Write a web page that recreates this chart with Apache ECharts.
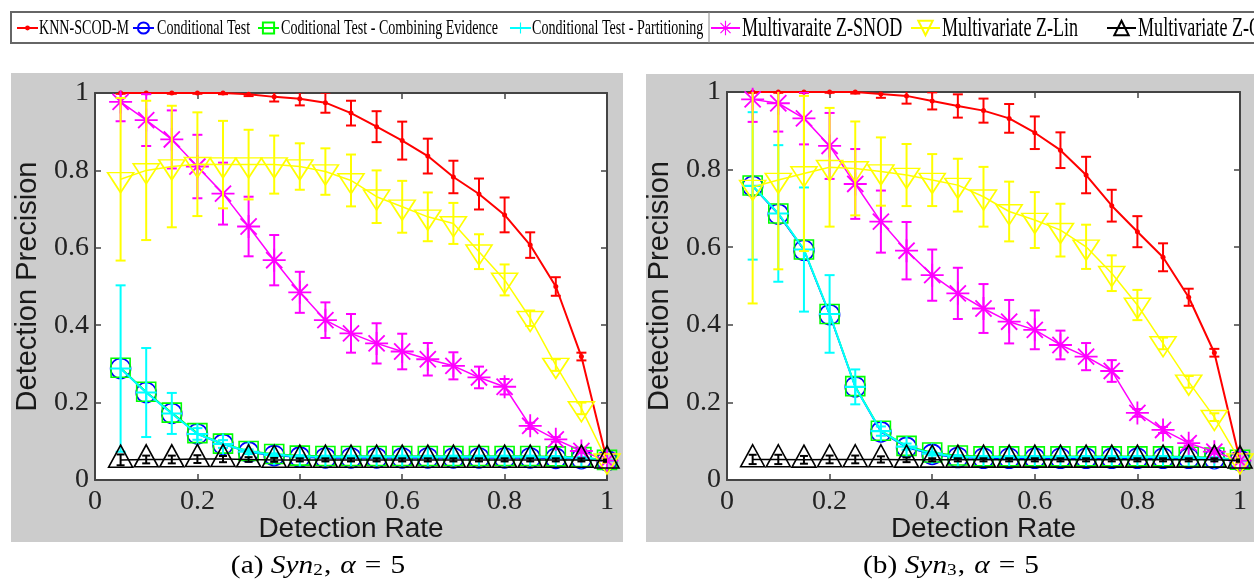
<!DOCTYPE html>
<html><head><meta charset="utf-8">
<script src="https://cdn.jsdelivr.net/npm/echarts@6/dist/echarts.min.js"></script>
<style>html,body{margin:0;padding:0;background:#fff}#c{width:1254px;height:579px}</style>
</head><body><div id="c"></div>
<script>
// ---------- data ----------
const xRates = [0.05,0.1,0.15,0.2,0.25,0.3,0.35,0.4,0.45,0.5,0.55,0.6,0.65,0.7,0.75,0.8,0.85,0.9,0.95,1.0];
const seriesNames = ['KNN-SCOD-M','Conditional Test','Coditional Test - Combining Evidence','Conditional Test - Partitioning','Multivaraite Z-SNOD','Multivariate Z-Lin','Multivariate Z-OF'];
const tickValues = [0,0.2,0.4,0.6,0.8,1];

// (a) Syn2
const knnA     = [1.0,1.0,1.0,1.0,1.0,0.997,0.99,0.985,0.975,0.948,0.913,0.877,0.837,0.783,0.739,0.685,0.607,0.50,0.319,0.05];
const knnErrA  = [0.002,0.002,0.002,0.002,0.003,0.005,0.012,0.017,0.026,0.032,0.04,0.049,0.045,0.042,0.04,0.045,0.033,0.024,0.01,0.004];
const condA    = [0.288,0.226,0.172,0.119,0.092,0.072,0.063,0.059,0.057,0.057,0.057,0.057,0.057,0.057,0.057,0.057,0.057,0.056,0.055,0.05];
const coditA   = [0.290,0.228,0.174,0.121,0.094,0.075,0.067,0.063,0.062,0.062,0.062,0.062,0.062,0.062,0.062,0.062,0.062,0.061,0.059,0.052];
const partA    = [0.288,0.226,0.172,0.119,0.093,0.073,0.065,0.061,0.06,0.06,0.06,0.06,0.06,0.06,0.06,0.06,0.06,0.059,0.057,0.05];
const partErrA = [0.215,0.115,0.053,0.015,0.01,0.006,0.004,0.003,0.003,0.003,0.003,0.003,0.003,0.003,0.003,0.003,0.003,0.003,0.003,0.002];
const snodA    = [0.977,0.93,0.88,0.81,0.74,0.655,0.568,0.485,0.413,0.379,0.353,0.332,0.312,0.295,0.265,0.241,0.14,0.105,0.075,0.05];
const snodErrA = [0.05,0.067,0.075,0.082,0.08,0.077,0.065,0.053,0.046,0.05,0.052,0.046,0.042,0.035,0.028,0.02,0.008,0.006,0.005,0.003];
const linA     = [0.777,0.80,0.81,0.816,0.815,0.815,0.815,0.81,0.797,0.774,0.732,0.706,0.68,0.663,0.59,0.517,0.418,0.297,0.185,0.05];
const linErrA  = [0.21,0.18,0.157,0.134,0.113,0.09,0.075,0.06,0.06,0.067,0.068,0.067,0.063,0.053,0.045,0.04,0.02,0.015,0.015,0.005];
const ofA      = [0.052,0.053,0.053,0.054,0.054,0.053,0.052,0.052,0.052,0.052,0.052,0.052,0.052,0.052,0.052,0.052,0.052,0.052,0.052,0.05];
const ofErrA   = [0.014,0.01,0.01,0.01,0.008,0.006,0.005,0.004,0.004,0.004,0.004,0.004,0.004,0.004,0.004,0.004,0.004,0.004,0.004,0.003];

// (b) Syn3
const knnB     = [1.0,1.0,1.0,1.0,1.0,0.995,0.99,0.977,0.964,0.952,0.932,0.895,0.85,0.786,0.707,0.64,0.574,0.471,0.328,0.05];
const knnErrB  = [0.002,0.002,0.002,0.002,0.004,0.01,0.02,0.022,0.03,0.031,0.037,0.042,0.046,0.047,0.041,0.04,0.036,0.022,0.01,0.004];
const condB    = [0.757,0.685,0.592,0.426,0.24,0.124,0.084,0.066,0.058,0.056,0.056,0.056,0.056,0.056,0.056,0.056,0.056,0.056,0.055,0.05];
const coditB   = [0.759,0.687,0.594,0.428,0.242,0.127,0.088,0.071,0.063,0.061,0.061,0.061,0.061,0.061,0.061,0.061,0.061,0.06,0.058,0.052];
const partB    = [0.758,0.687,0.594,0.428,0.24,0.126,0.086,0.068,0.06,0.059,0.059,0.059,0.059,0.059,0.059,0.059,0.059,0.058,0.056,0.05];
const partErrB = [0.19,0.176,0.16,0.1,0.045,0.012,0.008,0.005,0.004,0.003,0.003,0.003,0.003,0.003,0.003,0.003,0.003,0.003,0.003,0.002];
const snodB    = [0.981,0.971,0.932,0.861,0.763,0.666,0.591,0.528,0.481,0.442,0.408,0.387,0.348,0.318,0.281,0.173,0.129,0.095,0.073,0.05];
const snodErrB = [0.058,0.073,0.067,0.085,0.09,0.08,0.074,0.066,0.066,0.063,0.056,0.05,0.037,0.035,0.028,0.01,0.008,0.006,0.005,0.003];
const linB     = [0.755,0.773,0.79,0.806,0.803,0.795,0.786,0.773,0.76,0.73,0.692,0.67,0.644,0.601,0.533,0.451,0.352,0.253,0.162,0.05];
const linErrB  = [0.3,0.23,0.2,0.153,0.121,0.088,0.08,0.067,0.068,0.077,0.077,0.072,0.068,0.057,0.046,0.039,0.015,0.015,0.01,0.005];
const ofB      = [0.053,0.053,0.052,0.053,0.053,0.053,0.052,0.052,0.052,0.052,0.052,0.052,0.052,0.052,0.052,0.052,0.052,0.052,0.052,0.05];
const ofErrB   = [0.012,0.012,0.01,0.01,0.01,0.008,0.006,0.004,0.004,0.004,0.004,0.004,0.004,0.004,0.004,0.004,0.004,0.004,0.004,0.003];

const captionA = ['(a) ', 'Syn', '2', ',', 'α', '=', '5'];
const captionB = ['(b) ', 'Syn', '3', ',', 'α', '=', '5'];

// ---------- styling ----------
const colors = ['#ff0000','#0000ff','#00ff00','#00ffff','#ff00ff','#ffff00','#000000'];
const plusPath = 'path://M9,0H11V9H20V11H11V20H9V11H0V9H9Z';
const starPath = 'path://M0,46H100V54H0Z M46,0H54V100H46Z M17.83,12.17L87.83,82.17L82.17,87.83L12.17,17.83Z M82.17,12.17L87.83,17.83L17.83,87.83L12.17,82.17Z';
const markerCfg = [
  {symbol:'circle', size:5, hollow:false, lw:2},
  {symbol:'circle', size:20, hollow:true, lw:1.5},
  {symbol:'rect', size:19, hollow:true, lw:1.5},
  {symbol:plusPath, size:21, hollow:false, lw:2},
  {symbol:starPath, size:23, hollow:false, lw:1.5},
  {symbol:'triangle', size:[26,20], hollow:true, lw:1.5, rotate:180, offset:[0,3.3]},
  {symbol:'triangle', size:[24,22], hollow:true, lw:1.5, offset:[0,-3.7]}
];
const capW = [10,10,10,10,10,10,8];

function lineSeries(k, values, gi) {
  const m = markerCfg[k];
  return {
    type:'line', name: seriesNames[k], xAxisIndex: gi*2, yAxisIndex: gi*2,
    data: xRates.map((x,i)=>[x, values[i]]),
    symbol: m.symbol, symbolSize: m.size, symbolRotate: m.rotate || 0,
    symbolOffset: m.offset || [0,0], showAllSymbol: true, z: 3 + k,
    lineStyle: {color: colors[k], width: m.lw},
    itemStyle: m.hollow ? {color:'rgba(0,0,0,0)', borderColor: colors[k], borderWidth: 1.6}
                        : {color: colors[k], borderWidth: 0},
    emphasis: {disabled: true}, silent: true, animation: false
  };
}
function errSeries(k, values, errs, gi) {
  const col = colors[k], hw = capW[k] / 2;
  return {
    type:'custom', name: seriesNames[k] + ' error ' + gi, xAxisIndex: gi*2, yAxisIndex: gi*2,
    data: xRates.map((x,i)=>[x, values[i]-errs[i], values[i]+errs[i]]),
    encode: {x:0, y:[1,2]}, clip: true, silent: true, z: 3 + k, animation:false,
    renderItem: function(params, api) {
      const x = api.value(0);
      const lo = api.coord([x, api.value(1)]);
      const hi = api.coord([x, api.value(2)]);
      const st = {stroke: col, lineWidth: 2};
      return {type:'group', children:[
        {type:'line', shape:{x1:lo[0], y1:lo[1], x2:hi[0], y2:hi[1]}, style: st},
        {type:'line', shape:{x1:lo[0]-hw, y1:lo[1], x2:lo[0]+hw, y2:lo[1]}, style: st},
        {type:'line', shape:{x1:hi[0]-hw, y1:hi[1], x2:hi[0]+hw, y2:hi[1]}, style: st}
      ]};
    }
  };
}

const axCol = '#444';
const fmt = v => String(tickValues.find(t => Math.abs(t - v) < 1e-9) ?? v);
function xMain(gi){ return {type:'value', gridIndex:gi, min:0, max:1, interval:0.2, position:'bottom',
  name:'Detection Rate', nameLocation:'middle', nameGap:35, nameMoveOverlap:false,
  nameTextStyle:{fontFamily:'Liberation Sans', fontSize:28, color:'#1a1a1a'},
  axisLine:{show:true, onZero:false, lineStyle:{color:axCol, width:2}},
  axisTick:{show:true, inside:true, length:6, lineStyle:{color:axCol, width:1.5}},
  axisLabel:{fontFamily:'Liberation Serif', fontSize:28, color:'#222', margin:8, formatter: fmt},
  splitLine:{show:false}}; }
function xTop(gi){ return {type:'value', gridIndex:gi, min:0, max:1, interval:0.2, position:'top',
  axisLine:{show:true, onZero:false, lineStyle:{color:axCol, width:2}},
  axisTick:{show:true, inside:true, length:6, lineStyle:{color:axCol, width:1.5}},
  axisLabel:{show:false}, splitLine:{show:false}}; }
function yMain(gi){ return {type:'value', gridIndex:gi, min:0, max:1, interval:0.2, position:'left',
  name:'Detection Precision', nameLocation:'middle', nameGap:53, nameMoveOverlap:false,
  nameTextStyle:{fontFamily:'Liberation Sans', fontSize:29, color:'#1a1a1a'},
  axisLine:{show:true, onZero:false, lineStyle:{color:axCol, width:2}},
  axisTick:{show:true, inside:true, length:6, lineStyle:{color:axCol, width:1.5}},
  axisLabel:{fontFamily:'Liberation Serif', fontSize:28, color:'#222', margin:6, formatter: fmt},
  splitLine:{show:false}}; }
function yRight(gi){ return {type:'value', gridIndex:gi, min:0, max:1, interval:0.2, position:'right',
  axisLine:{show:true, onZero:false, lineStyle:{color:axCol, width:2}},
  axisTick:{show:true, inside:true, length:6, lineStyle:{color:axCol, width:1.5}},
  axisLabel:{show:false}, splitLine:{show:false}}; }

const panels = [
  [knnA, condA, coditA, partA, snodA, linA, ofA],
  [knnB, condB, coditB, partB, snodB, linB, ofB]
];
const panelErrs = [
  [knnErrA, null, null, partErrA, snodErrA, linErrA, ofErrA],
  [knnErrB, null, null, partErrB, snodErrB, linErrB, ofErrB]
];
const series = [];
panels.forEach((vals, gi) => {
  vals.forEach((v, k) => {
    series.push(lineSeries(k, v, gi));
    if (panelErrs[gi][k]) series.push(errSeries(k, v, panelErrs[gi][k], gi));
  });
});

// legend: icons from the library, labels drawn horizontally condensed like the original
const legendIconX = [16, 132, 257, 509, 710, 910, 1106];
const legendTextX = [39, 157, 281, 532, 742, 942, 1138];
const legendIconH = [6, 14, 14, 14, 18, 18, 18];
const legends = seriesNames.map((n, k) => ({
  data:[n], left: legendIconX[k], top: 28 - legendIconH[k] / 2, padding: 0, selectedMode: false,
  itemWidth: k < 4 ? 21 : 29, itemHeight: legendIconH[k], itemGap: 0,
  formatter: () => '', textStyle: {fontSize: 1}
}));
const legendTexts = seriesNames.map((n, k) => ({
  type:'text', x: legendTextX[k], y: 28.5, scaleX: 0.67, z: 5,
  style: {text: n, fontFamily:'Liberation Serif', fontSize: k < 4 ? 21 : 27, fill:'#000', align:'left', verticalAlign:'middle'}
}));

const capRich = {
  n:{fontFamily:'Liberation Serif', fontSize:26, color:'#000'},
  i:{fontFamily:'Liberation Serif', fontStyle:'italic', fontSize:26, color:'#000'},
  c:{fontFamily:'Liberation Serif', fontSize:26, color:'#000', padding:[0,8,0,0]},
  e:{fontFamily:'Liberation Serif', fontSize:26, color:'#000', padding:[0,8,0,8]},
  s:{fontFamily:'Liberation Serif', fontSize:17, color:'#000', verticalAlign:'bottom', padding:[9,1,0,0]}
};
function capText(p){ return '{n|' + p[0] + '}{i|' + p[1] + '}{s|' + p[2] + '}{c|' + p[3] + '}{i|' + p[4] + '}{e|' + p[5] + '}{n|' + p[6] + '}'; }

const chart = echarts.init(document.getElementById('c'), null, {renderer:'canvas'});
chart.setOption({
  animation: false,
  backgroundColor: '#fff',
  graphic: [
    {type:'rect', z:-10, shape:{x:11, y:73, width:612, height:469}, style:{fill:'#cccccc'}},
    {type:'rect', z:-10, shape:{x:646, y:74, width:620, height:468}, style:{fill:'#cccccc'}},
    {type:'rect', z:-10, shape:{x:11, y:12, width:1260, height:31}, style:{fill:'#fff', stroke:'#666', lineWidth:2}},
    {type:'line', z:-9, shape:{x1:709, y1:12, x2:709, y2:43}, style:{stroke:'#888', lineWidth:1}},
    {type:'text', x:318, y:566, scaleX:1.13, style:{text: capText(captionA), rich: capRich, align:'center', verticalAlign:'middle'}},
    {type:'text', x:951, y:566, scaleX:1.13, style:{text: capText(captionB), rich: capRich, align:'center', verticalAlign:'middle'}}
  ].concat(legendTexts),
  legend: legends,
  grid: [
    {left:95, top:93, width:512, height:387, show:true, backgroundColor:'#fff', borderWidth:0},
    {left:727, top:92, width:513, height:388, show:true, backgroundColor:'#fff', borderWidth:0}
  ],
  xAxis: [xMain(0), xTop(0), xMain(1), xTop(1)],
  yAxis: [yMain(0), yRight(0), yMain(1), yRight(1)],
  series: series
});
</script></body></html>
